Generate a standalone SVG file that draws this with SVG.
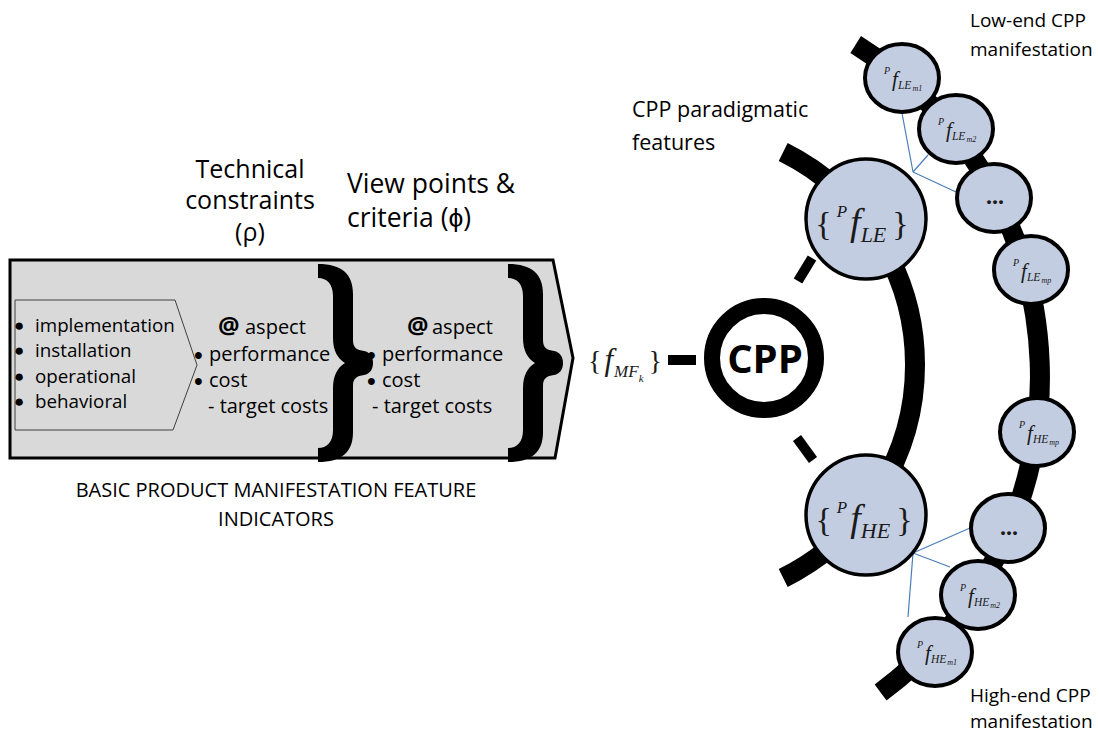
<svg xmlns="http://www.w3.org/2000/svg" width="1099" height="734" viewBox="0 0 1099 734">
<style>
.box{fill:#d9d9d9;stroke:#000;stroke-width:3}
.chev{fill:#d9d9d9;stroke:#404040;stroke-width:1}
.brace{fill:#000}
.t{font-family:"Open Sans","Liberation Sans","DejaVu Sans",sans-serif;fill:#000}
.b{font-family:"Liberation Sans","DejaVu Sans",sans-serif;fill:#000}
.m{font-family:"Liberation Serif","Times New Roman",serif;fill:#1a1a1a}
.i{font-style:italic}
.big{fill:#c3cde1;stroke:#000;stroke-width:3.5}
.sm{fill:#c3cde1;stroke:#000;stroke-width:4}
.band{fill:none;stroke:#000;stroke-width:20}
.dash{stroke:#000;stroke-width:10}
.link{stroke:#4a7ebb;stroke-width:1.2}
.ring{fill:#fff;stroke:#000;stroke-width:16}
</style>
<defs>
<path id="brace" d="M0,0 C24,0 35,10 35,30 L35,76 C35,84 39,86 46,87 C52,88 55,93 55,99 C55,105 52,110 46,111 C39,112 35,114 35,122 L35,168 C35,188 24,198 0,198 L0,184 C9,184 15,178 15,166 L15,124 C15,112 19,104 27,99 C19,94 15,86 15,74 L15,32 C15,20 9,14 0,14 Z"/>
</defs>

<!-- Left feature box -->
<g id="feature-box">
<path class="box" d="M10,260 L553,260 L573,358 L555,458 L10,458 Z"/>
<use href="#brace" class="brace" transform="translate(318,264)"/>
<use href="#brace" class="brace" transform="translate(508,264)"/>
</g>

<g id="indicators">
<path class="chev" d="M15,300 L175,300 L197,365 L173,430 L15,430 Z"/>
<text class="b" font-size="17" x="14" y="331">●</text>
<text class="b" font-size="17" x="14" y="356">●</text>
<text class="b" font-size="17" x="14" y="382">●</text>
<text class="b" font-size="17" x="14" y="407">●</text>
<text class="t" font-size="18.8" x="35" y="332">implementation</text>
<text class="t" font-size="18.8" x="35" y="357">installation</text>
<text class="t" font-size="18.8" x="35" y="383">operational</text>
<text class="t" font-size="18.8" x="35" y="408">behavioral</text>
</g>

<g id="technical-constraints">
<text class="t" font-size="25" text-anchor="middle"><tspan x="250" y="178">Technical</tspan><tspan x="250" y="209">constraints</tspan><tspan x="250" y="241">(ρ)</tspan></text>
<text class="t" font-size="20"><tspan x="218" y="334" font-size="24" font-weight="bold">@</tspan><tspan x="245" y="334">aspect</tspan></text>
<text class="b" font-size="25" x="194" y="364">•</text>
<text class="b" font-size="25" x="194" y="390">•</text>
<text class="t" font-size="20" x="209" y="361">performance</text>
<text class="t" font-size="20" x="209" y="387">cost</text>
<text class="t" font-size="20" x="208" y="413">- target costs</text>
</g>

<g id="view-points">
<text class="t" font-size="26.5"><tspan x="347" y="193">View points &amp;</tspan><tspan x="347" y="227">criteria (ϕ)</tspan></text>
<text class="t" font-size="20"><tspan x="407" y="334" font-size="24" font-weight="bold">@</tspan><tspan x="432" y="334">aspect</tspan></text>
<text class="b" font-size="25" x="367" y="364">•</text>
<text class="b" font-size="25" x="367" y="390">•</text>
<text class="t" font-size="20" x="382" y="361">performance</text>
<text class="t" font-size="20" x="382" y="387">cost</text>
<text class="t" font-size="20" x="372" y="413">- target costs</text>
</g>

<g id="box-caption">
<text class="t" font-size="20" text-anchor="middle"><tspan x="276" y="497">BASIC PRODUCT MANIFESTATION FEATURE</tspan><tspan x="276" y="526">INDICATORS</tspan></text>
</g>

<g id="fmf-label">
<text class="m" font-size="28" x="588" y="370">{<tspan class="i" font-size="31" dx="3">f</tspan><tspan class="i" font-size="17" dx="1" dy="7">MF</tspan><tspan class="i" font-size="11" dy="5">k</tspan><tspan dx="5" dy="-12">}</tspan></text>
</g>

<!-- Connectors and arcs -->
<g id="connectors">
<path class="band" d="M783.2,152 A238,238 0 0 1 783.2,578"/>
<path class="band" d="M855.7,44.6 A392,392 0 0 1 880.6,692.5"/>
<line class="dash" x1="668" y1="360" x2="696" y2="360"/>
<line class="dash" x1="798" y1="281" x2="812" y2="258"/>
<line class="dash" x1="797" y1="438" x2="813" y2="460"/>
<line class="link" x1="913" y1="172" x2="902" y2="113"/>
<line class="link" x1="913" y1="172" x2="928" y2="155"/>
<line class="link" x1="913" y1="172" x2="956" y2="192"/>
<line class="link" x1="913" y1="553" x2="970" y2="528"/>
<line class="link" x1="913" y1="553" x2="950" y2="567"/>
<line class="link" x1="913" y1="553" x2="908" y2="617"/>
</g>

<g id="cpp">
<circle class="ring" cx="764" cy="358" r="52"/>
<text class="t" font-size="40" font-weight="bold" text-anchor="middle" x="765" y="373">CPP</text>
</g>

<g id="cpp-paradigmatic-label">
<text class="t" font-size="21.5"><tspan x="632" y="117">CPP paradigmatic</tspan><tspan x="632" y="150">features</tspan></text>
</g>

<g id="pf-le">
<circle class="big" cx="866" cy="219" r="60"/>
<text class="m" font-size="34" text-anchor="middle" x="862" y="235">{<tspan class="i" font-size="17" dx="5" dy="-18">P</tspan><tspan class="i" font-size="38" dx="3" dy="18">f</tspan><tspan class="i" font-size="22" dy="7">LE</tspan><tspan dx="6" dy="-7">}</tspan></text>
</g>

<g id="pf-he">
<circle class="big" cx="866" cy="515" r="60"/>
<text class="m" font-size="34" text-anchor="middle" x="864" y="531">{<tspan class="i" font-size="17" dx="5" dy="-18">P</tspan><tspan class="i" font-size="38" dx="3" dy="18">f</tspan><tspan class="i" font-size="22" dy="7">HE</tspan><tspan dx="6" dy="-7">}</tspan></text>
</g>

<g id="le-m1">
<ellipse class="sm" cx="902" cy="78" rx="37" ry="34"/>
<text class="m i" font-size="10" x="884" y="74">P<tspan font-size="21" dx="2" dy="12">f</tspan><tspan font-size="11.5" dy="3">LE</tspan><tspan font-size="8" dx="1" dy="2">m1</tspan></text>
</g>
<g id="le-m2">
<ellipse class="sm" cx="956" cy="129" rx="37" ry="34"/>
<text class="m i" font-size="10" x="938" y="125">P<tspan font-size="21" dx="2" dy="12">f</tspan><tspan font-size="11.5" dy="3">LE</tspan><tspan font-size="8" dx="1" dy="2">m2</tspan></text>
</g>
<g id="le-etc">
<ellipse class="sm" cx="994" cy="198" rx="37" ry="34"/>
<text class="m" font-size="24" font-weight="bold" text-anchor="middle" x="995" y="204">...</text>
</g>
<g id="le-mp">
<ellipse class="sm" cx="1031" cy="270" rx="37" ry="34"/>
<text class="m i" font-size="10" x="1013" y="266">P<tspan font-size="21" dx="2" dy="12">f</tspan><tspan font-size="11.5" dy="3">LE</tspan><tspan font-size="8" dx="1" dy="2">mp</tspan></text>
</g>
<g id="he-mp">
<ellipse class="sm" cx="1037" cy="432" rx="37" ry="34"/>
<text class="m i" font-size="10" x="1019" y="428">P<tspan font-size="21" dx="2" dy="12">f</tspan><tspan font-size="11.5" dy="3">HE</tspan><tspan font-size="8" dx="1" dy="2">mp</tspan></text>
</g>
<g id="he-etc">
<ellipse class="sm" cx="1008" cy="528" rx="37" ry="34"/>
<text class="m" font-size="24" font-weight="bold" text-anchor="middle" x="1009" y="535">...</text>
</g>
<g id="he-m2">
<ellipse class="sm" cx="978" cy="595" rx="37" ry="34"/>
<text class="m i" font-size="10" x="960" y="591">P<tspan font-size="21" dx="2" dy="12">f</tspan><tspan font-size="11.5" dy="3">HE</tspan><tspan font-size="8" dx="1" dy="2">m2</tspan></text>
</g>
<g id="he-m1">
<ellipse class="sm" cx="935" cy="652" rx="37" ry="34"/>
<text class="m i" font-size="10" x="917" y="648">P<tspan font-size="21" dx="2" dy="12">f</tspan><tspan font-size="11.5" dy="3">HE</tspan><tspan font-size="8" dx="1" dy="2">m1</tspan></text>
</g>

<g id="low-end-label">
<text class="t" font-size="19"><tspan x="970" y="27">Low-end CPP</tspan><tspan x="970" y="56">manifestation</tspan></text>
</g>
<g id="high-end-label">
<text class="t" font-size="19"><tspan x="970" y="702">High-end CPP</tspan><tspan x="970" y="728">manifestation</tspan></text>
</g>
</svg>
